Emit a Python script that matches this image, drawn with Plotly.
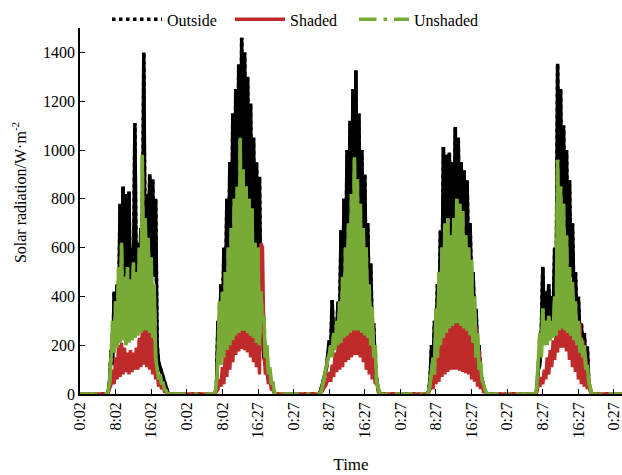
import plotly.graph_objects as go

# Solar radiation logged every 20 min over five days (W/m^2).
# Each daily list starts at 5:40 (hours counted from the first 0:02 reading).
READ_STEP_H = 20 / 60
FIRST_READ_H = 5 + 40 / 60
RECORD_START_H = 0.0
RECORD_END_H = 122.0

outside_day1 = [0, 0, 5, 60, 180, 120, 420, 250, 450, 300, 780, 380, 850, 420, 820, 400, 830, 380, 600, 420,
                1110, 400, 620, 380, 680, 420, 1400, 450, 820, 500, 900, 520, 880, 480, 800, 200, 130, 110, 80, 60,
                40, 25, 10, 0, 0]
outside_day2 = [0, 0, 0, 30, 300, 150, 450, 250, 600, 350, 800, 400, 950, 450, 1150, 500, 1250, 550, 1350, 600,
                1460, 600, 1400, 580, 1300, 560, 1190, 540, 1050, 500, 950, 480, 890, 300, 250, 150, 120, 100, 60, 50,
                30, 20, 5, 0, 0]
outside_day3 = [0, 10, 30, 60, 80, 100, 150, 220, 180, 385, 200, 300, 250, 380, 300, 671, 350, 800, 400, 1000,
                450, 1120, 500, 1250, 550, 1326, 550, 1150, 500, 1000, 480, 900, 420, 700, 350, 535, 250, 290, 100, 60,
                20, 5, 0, 0, 0]
outside_day4 = [0, 0, 10, 60, 200, 120, 300, 200, 450, 300, 671, 400, 1012, 500, 980, 500, 990, 550, 950, 600,
                1094, 600, 1050, 560, 950, 540, 917, 520, 876, 480, 700, 420, 500, 300, 350, 180, 200, 80, 60, 30,
                10, 0, 0, 0, 0]
outside_day5 = [0, 0, 0, 20, 100, 120, 250, 521, 300, 420, 280, 450, 300, 400, 320, 600, 400, 1353, 600, 1250,
                580, 1100, 560, 1000, 520, 876, 480, 700, 400, 500, 300, 398, 250, 290, 180, 250, 120, 194, 50, 20,
                0, 0, 0, 0, 0]

shaded_day1 = [0, 0, 5, 20, 40, 100, 40, 150, 60, 200, 70, 210, 80, 190, 90, 170, 80, 180, 90, 170,
               100, 190, 100, 230, 110, 260, 120, 280, 110, 380, 100, 300, 80, 220, 60, 90, 30, 60, 20, 30,
               10, 10, 0, 0, 0]
shaded_day2 = [0, 0, 0, 10, 20, 60, 30, 110, 40, 180, 70, 220, 100, 240, 130, 260, 160, 280, 175, 300,
               185, 320, 180, 350, 170, 370, 150, 380, 130, 320, 110, 350, 80, 617, 600, 200, 80, 150, 40, 70,
               20, 20, 5, 0, 0]
shaded_day3 = [0, 5, 10, 20, 30, 40, 60, 90, 50, 120, 70, 170, 90, 210, 100, 230, 110, 250, 130, 270,
               140, 290, 150, 300, 160, 280, 160, 290, 150, 300, 130, 330, 100, 400, 80, 300, 60, 180, 40, 60,
               10, 0, 0, 0, 0]
shaded_day4 = [0, 0, 5, 20, 50, 20, 100, 40, 150, 50, 250, 70, 280, 80, 300, 90, 330, 100, 360, 100,
               500, 100, 420, 95, 380, 90, 400, 85, 410, 80, 420, 60, 330, 50, 280, 30, 180, 20, 70, 10,
               10, 0, 0, 0, 0]
shaded_day5 = [0, 0, 0, 10, 40, 30, 70, 40, 100, 60, 150, 80, 180, 110, 220, 140, 260, 170, 340, 190,
               357, 190, 300, 175, 280, 140, 260, 110, 250, 90, 260, 60, 290, 40, 220, 30, 150, 20, 60, 10,
               0, 0, 0, 0, 0]

unshaded_day1 = [0, 0, 10, 50, 150, 300, 170, 380, 190, 520, 210, 620, 220, 480, 200, 520, 210, 470, 220, 540,
                 230, 500, 240, 600, 250, 980, 260, 720, 260, 640, 250, 560, 230, 450, 150, 100, 60, 80, 40, 50,
                 20, 15, 0, 0, 0]
unshaded_day2 = [0, 0, 0, 40, 150, 380, 120, 420, 150, 500, 180, 600, 200, 680, 220, 800, 240, 850, 250, 1050,
                 260, 920, 260, 850, 250, 800, 240, 760, 230, 620, 210, 600, 200, 420, 300, 320, 150, 200, 80, 110,
                 40, 50, 10, 0, 0]
unshaded_day3 = [0, 5, 20, 50, 90, 110, 140, 160, 200, 150, 250, 180, 300, 200, 380, 210, 480, 230, 600, 240,
                 700, 250, 820, 260, 970, 260, 880, 260, 780, 250, 680, 240, 600, 230, 450, 200, 357, 150, 200, 50,
                 30, 0, 0, 0, 0]
unshaded_day4 = [0, 0, 10, 40, 100, 150, 80, 350, 150, 500, 200, 600, 230, 700, 250, 720, 270, 650, 280, 720,
                 290, 800, 290, 780, 280, 750, 270, 650, 260, 600, 240, 550, 210, 400, 150, 250, 100, 130, 60, 40,
                 10, 0, 0, 0, 0]
unshaded_day5 = [0, 0, 0, 30, 150, 250, 150, 350, 200, 300, 200, 320, 220, 300, 230, 400, 240, 960, 260, 850,
                 270, 780, 260, 650, 250, 520, 240, 460, 220, 380, 200, 300, 170, 230, 150, 200, 100, 120, 50, 20,
                 0, 0, 0, 0, 0]

tick_hours = [0, 8, 16, 24, 32, 40, 48, 56, 64, 72, 80, 88, 96, 104, 112, 120]
tick_labels = ["0:02", "8:02", "16:02", "0:02", "8:02", "16:27", "0:27", "8:27",
               "16:27", "0:27", "8:27", "16:27", "0:27", "8:27", "16:27", "0:27"]


def day_times(k, vals):
    return [24 * k + FIRST_READ_H + i * READ_STEP_H for i in range(len(vals))]


def full_record(days):
    """Whole record, including the zero night readings at both ends."""
    xs, ys = [RECORD_START_H], [0]
    for k, vals in enumerate(days):
        xs += day_times(k, vals)
        ys += list(vals)
    xs.append(RECORD_END_H)
    ys.append(0)
    return xs, ys


def daylight_only(days):
    """Daily segments only, broken between days (solid body of the dense traces)."""
    xs, ys = [], []
    for k, vals in enumerate(days):
        xs += day_times(k, vals) + [None]
        ys += list(vals) + [None]
    return xs, ys


outside_days = [outside_day1, outside_day2, outside_day3, outside_day4, outside_day5]
shaded_days = [shaded_day1, shaded_day2, shaded_day3, shaded_day4, shaded_day5]
unshaded_days = [unshaded_day1, unshaded_day2, unshaded_day3, unshaded_day4, unshaded_day5]

BLACK, RED, GREEN = "#000000", "#bf2a2a", "#78aa36"
LW = 3.5
FONT = "Liberation Serif"

fig = go.Figure()


def add_body(days, color):
    x, y = daylight_only(days)
    fig.add_trace(go.Scatter(x=x, y=y, mode="lines", showlegend=False, hoverinfo="skip",
                             line=dict(color=color, width=LW), connectgaps=False))


def add_series(days, name, color, dash, legend):
    x, y = full_record(days)
    fig.add_trace(go.Scatter(x=x, y=y, mode="lines", name=name, legend=legend,
                             line=dict(color=color, width=LW, dash=dash)))


add_body(outside_days, BLACK)
add_series(outside_days, "Outside", BLACK, "dot", "legend")
add_series(shaded_days, "Shaded", RED, "solid", "legend2")
add_body(unshaded_days, GREEN)
add_series(unshaded_days, "Unshaded", GREEN, "longdashdot", "legend3")


def legend_at(left_px):
    return dict(
        orientation="h", xref="container", yref="container",
        x=left_px / 622, y=0.995, xanchor="left", yanchor="top",
        font=dict(family=FONT, size=16, color="black"),
        bgcolor="rgba(0,0,0,0)", itemwidth=50,
    )


fig.update_layout(
    width=622, height=475,
    margin=dict(l=80, r=0, t=28, b=81, autoexpand=False),
    paper_bgcolor="white", plot_bgcolor="white",
    font=dict(family=FONT, size=16, color="black"),
    showlegend=True,
    legend=legend_at(107),
    legend2=legend_at(230),
    legend3=legend_at(354),
    xaxis=dict(
        range=[0, 121.8], tickmode="array", tickvals=tick_hours, ticktext=tick_labels,
        tickangle=-90, ticks="inside", ticklen=5, tickcolor="black", tickwidth=1,
        ticklabeloverflow="allow",
        showline=True, linecolor="black", linewidth=1.5, showgrid=False, zeroline=False,
        title=dict(text="Time", font=dict(family=FONT, size=17), standoff=20),
        tickfont=dict(family=FONT, size=16),
    ),
    yaxis=dict(
        range=[0, 1500], tickmode="array", tickvals=[0, 200, 400, 600, 800, 1000, 1200, 1400],
        ticks="inside", ticklen=5, tickcolor="black", tickwidth=1,
        showline=True, linecolor="black", linewidth=1.5, showgrid=False, zeroline=False,
        tickfont=dict(family=FONT, size=16),
    ),
    annotations=[dict(
        text="Solar radiation/W·m<sup>-2</sup>", textangle=-90,
        xref="paper", yref="paper", x=-0.1125, y=0.549,
        xanchor="center", yanchor="middle", showarrow=False,
        font=dict(family=FONT, size=16, color="black"),
    )],
)

fig.write_html("out.html")
